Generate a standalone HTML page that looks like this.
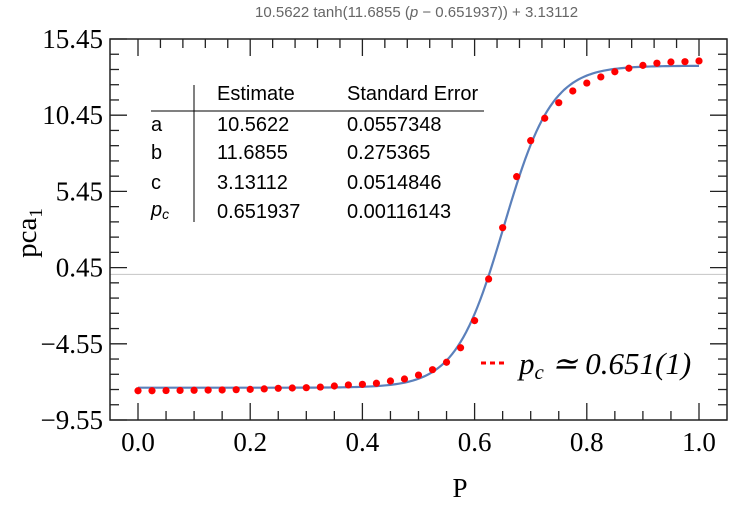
<!DOCTYPE html>
<html><head><meta charset="utf-8"><style>
body{margin:0;background:#fff;}
svg{display:block;font-family:"Liberation Serif",serif;}
.tb{font-family:"Liberation Sans",sans-serif;font-size:20px;fill:#000;}
</style></head><body>
<svg id="chart" width="747" height="512" viewBox="0 0 747 512">
<text x="255" y="17" font-family="Liberation Sans" font-size="15" fill="#666">10.5622 tanh(11.6855 (<tspan font-style="italic">p</tspan> − 0.651937)) + 3.13112</text>
<g id="axes"></g>
<g id="marks"></g>
<g>
<line x1="194" y1="85" x2="194" y2="222" stroke="#000" stroke-width="1"/>
<line x1="151" y1="111" x2="484" y2="111" stroke="#000" stroke-width="1"/>
<text class="tb" x="217" y="100">Estimate</text>
<text class="tb" x="347" y="100">Standard Error</text>
<text class="tb" x="151" y="131">a</text>
<text class="tb" x="217" y="131">10.5622</text>
<text class="tb" x="347" y="131">0.0557348</text>
<text class="tb" x="151" y="159">b</text>
<text class="tb" x="217" y="159">11.6855</text>
<text class="tb" x="347" y="159">0.275365</text>
<text class="tb" x="151" y="189">c</text>
<text class="tb" x="217" y="189">3.13112</text>
<text class="tb" x="347" y="189">0.0514846</text>
<text class="tb" x="151" y="216" font-style="italic">p<tspan font-size="14" dy="3">c</tspan></text>
<text class="tb" x="217" y="218">0.651937</text>
<text class="tb" x="347" y="218">0.00116143</text>
</g>
<g>
<line x1="481" y1="363" x2="506" y2="363" stroke="#f00" stroke-width="3" stroke-dasharray="5,4"/>
<text x="519" y="374" font-size="31" font-style="italic">p<tspan font-size="21" dy="5">c</tspan><tspan dy="-5"> ≃ 0.651(1)</tspan></text>
</g>
<text x="460" y="497" font-size="27" text-anchor="middle">P</text>
<text transform="translate(36,233) rotate(-90)" font-size="29" text-anchor="middle">pca<tspan font-size="19" dy="6">1</tspan></text>
</svg>
<script>
const pValues=[0,0.025,0.05,0.075,0.1,0.125,0.15,0.175,0.2,0.225,0.25,0.275,0.3,0.325,0.35,0.375,0.4,0.425,0.45,0.475,0.5,0.525,0.55,0.575,0.6,0.625,0.65,0.675,0.7,0.725,0.75,0.775,0.8,0.825,0.85,0.875,0.9,0.925,0.95,0.975,1.0];
const pcaValues=[-7.63,-7.63,-7.62,-7.61,-7.6,-7.59,-7.58,-7.56,-7.54,-7.51,-7.47,-7.45,-7.43,-7.39,-7.32,-7.25,-7.21,-7.14,-6.99,-6.86,-6.6,-6.25,-5.76,-4.81,-3.03,-0.3,3.07,6.42,8.78,10.25,11.27,12.04,12.56,12.96,13.3,13.53,13.72,13.86,13.94,13.96,14.01];
const fitA=10.5622, fitB=11.6855, fitC=3.13112, fitPc=0.651937;
const yTickValues=[-9.55,-4.55,0.45,5.45,10.45,15.45];
const yTickLabels=["−9.55","−4.55","0.45","5.45","10.45","15.45"];
const xTickValues=[0,0.2,0.4,0.6,0.8,1.0];
const xTickLabels=["0.0","0.2","0.4","0.6","0.8","1.0"];

const NS="http://www.w3.org/2000/svg";
const L=110,R=727,T=39,B=420;
const xS=p=>138+561*p;
const yS=v=>B-(v+9.55)*(B-T)/25;
function mk(parent,tag,attrs){const e=document.createElementNS(NS,tag);for(const k in attrs)e.setAttribute(k,attrs[k]);parent.appendChild(e);return e;}
const ax=document.getElementById('axes'), mg=document.getElementById('marks');
let zl=mk(ax,'line',{x1:L,x2:R,y1:yS(0),y2:yS(0),stroke:'#ccc','stroke-width':1.2});


let fr=mk(ax,'rect',{x:L,y:T,width:R-L,height:B-T,fill:'none',stroke:'#222','stroke-width':1.5});


for(let i=0;i<=25;i++){
  const v=-9.55+i, major=i%5===0, len=major?17:9;
  const y=yS(v);
  let t=mk(ax,'line',{x1:L,x2:L+len,y1:y,y2:y,stroke:'#222','stroke-width':1.3});
  
  
  let t2=mk(ax,'line',{x1:R,x2:R-len,y1:y,y2:y,stroke:'#222','stroke-width':1.3});
  
  
}
yTickValues.forEach((v,i)=>{
  let t=mk(ax,'text',{x:103,y:yS(v)+9,'font-size':27,'text-anchor':'end'});
  t.textContent=yTickLabels[i];
  
  
});
for(let i=0;i<=20;i++){
  const p=i*0.05, major=i%4===0, len=major?17:9;
  let t=mk(ax,'line',{x1:xS(p),x2:xS(p),y1:B,y2:B-len,stroke:'#222','stroke-width':1.3});
  
  
}
for(let i=0;i<=25;i++){
  const p=i*0.04, major=i%5===0, len=major?17:9;
  let t=mk(ax,'line',{x1:xS(p),x2:xS(p),y1:T,y2:T+len,stroke:'#222','stroke-width':1.3});
  
  
}
xTickValues.forEach((p,i)=>{
  let t=mk(ax,'text',{x:xS(p),y:451,'font-size':27,'text-anchor':'middle'});
  t.textContent=xTickLabels[i];
  
  
});
let d='';
for(let i=0;i<=200;i++){const p=i/200;const v=fitA*Math.tanh(fitB*(p-fitPc))+fitC;d+=(i?'L':'M')+xS(p).toFixed(2)+','+yS(v).toFixed(2);}
let fc=mk(mg,'path',{d:d,fill:'none',stroke:'#5b80bb','stroke-width':2.2});


pValues.forEach((p,i)=>{
  let c=mk(mg,'circle',{cx:xS(p),cy:yS(pcaValues[i]),r:3.6,fill:'#f00'});
  
  
});
</script>
</body></html>
